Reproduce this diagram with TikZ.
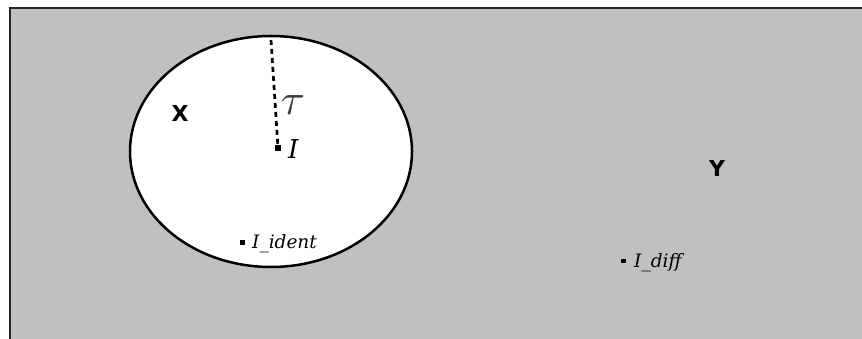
\documentclass[tikz,border=0pt]{standalone}
\usepackage{fontspec}
\setmainfont{DejaVu Serif}
\setsansfont{DejaVu Sans}
\usetikzlibrary{shapes.geometric}
\definecolor{bggray}{RGB}{192,192,192}
\begin{document}
\begin{tikzpicture}[x=1pt,y=-1pt,
  pointmark/.style={fill=black,inner sep=0pt,minimum size=#1},
  setlabel/.style={font=\fontsize{22}{24}\selectfont\sffamily\bfseries,inner sep=0pt},
  ptlabel/.style={font=\fontsize{18.5}{20}\selectfont\itshape,inner sep=0pt,anchor=west}]
\useasboundingbox (0,0) rectangle (862,339);
\fill[white] (0,0) rectangle (862,339);
\fill[bggray] (10,8) rectangle (862,339);
\draw[line width=1.5pt,black!85] (10,339) -- (10,8) -- (862,8);
\node[draw=black,line width=2.5pt,fill=white,ellipse,inner sep=0pt,minimum width=282pt,minimum height=231pt] (X) at (271,151.5) {};
\node[setlabel] (xl) at (180,113) {X};
\node[setlabel] (yl) at (717,168.5) {Y};
\node[pointmark=6pt] (I) at (278,148) {};
\coordinate (top) at (271,40);
\draw[line width=2.7pt,dash pattern=on 5pt off 4pt] (top) -- (I.center);
\node[text=black!75,inner sep=0pt] (tau) at (293,105) {\scalebox{4.4}{$\tau$}};
\node[font=\fontsize{26}{28}\selectfont\itshape,inner sep=0pt,anchor=west] (Il) at (288,149.5) {I};
\node[pointmark=4.5pt] (Iid) at (242.5,242.5) {};
\node[ptlabel] (Iidl) at (252,244) {I\_ident};
\node[pointmark=4.5pt] (Idf) at (623.5,261) {};
\node[ptlabel] (Idfl) at (634,263) {I\_diff};
\end{tikzpicture}
\end{document}
